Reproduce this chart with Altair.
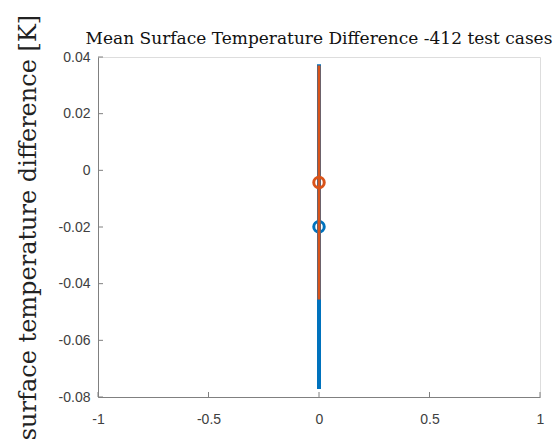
import altair as alt
import pandas as pd

# ---- data ----
series = ["Series 1", "Series 2"]
colors = ["#0072BD", "#D95319"]
x_pos = [0.0, 0.0]
means = [-0.0199, -0.0043]
errs = [0.0573, 0.0413]
bar_widths = [4, 3]

x_ticks = [-1, -0.5, 0, 0.5, 1]
y_ticks = [-0.08, -0.06, -0.04, -0.02, 0, 0.02, 0.04]

title_text = "Mean Surface Temperature Difference -412 test cases"
ylabel_text = "surface temperature difference [K]"

W, H = 442, 340

df = pd.DataFrame({
    "series": series,
    "x": x_pos,
    "mean": means,
    "lo": [m - e for m, e in zip(means, errs)],
    "hi": [m + e for m, e in zip(means, errs)],
})

xscale = alt.Scale(domain=[-1, 1], nice=False, zero=False)
yscale = alt.Scale(domain=[-0.08, 0.04], nice=False, zero=False)

AX = "#808080"
LAB = "#404040"

xaxis = alt.Axis(values=x_ticks, labelExpr="toString(datum.value)", tickSize=0,
                 grid=False, domainColor=AX, domainWidth=1, labelColor=LAB,
                 labelFont="Liberation Sans", labelFontSize=14, labelPadding=15,
                 title=None, labelFlush=False)
yaxis = alt.Axis(values=y_ticks, labelExpr="toString(datum.value)", tickSize=0,
                 grid=False, domainColor=AX, domainWidth=1, labelColor=LAB,
                 labelFont="Liberation Sans", labelFontSize=14, labelPadding=8,
                 title=ylabel_text, titleFont="DejaVu Serif", titleFontSize=24,
                 titleFontWeight="normal", titleColor="#222222",
                 titleX=-63, titleY=H / 2, titleAngle=270, titleAlign="center",
                 titleBaseline="alphabetic", labelFlush=False)


def X(field):
    return alt.X(field, type="quantitative", scale=xscale, axis=xaxis)


def Y(field):
    return alt.Y(field, type="quantitative", scale=yscale, axis=yaxis)


base = alt.Chart(df)

# inward ticks
xt = alt.Chart(pd.DataFrame({"v": x_ticks})).mark_rule(color=AX, strokeWidth=1).encode(
    x=X("v"), y=alt.value(H), y2=alt.value(H - 5),
)
yt = alt.Chart(pd.DataFrame({"v": y_ticks})).mark_rule(color=AX, strokeWidth=1).encode(
    y=Y("v"), x=alt.value(0), x2=alt.value(5),
)

layers = [xt, yt]
for s, c, bw in zip(series, colors, bar_widths):
    sub = base.transform_filter(alt.datum.series == s)
    rule = sub.mark_rule(color=c, strokeWidth=bw).encode(
        x=X("x"), y=Y("lo"), y2="hi:Q",
    )
    pt = sub.mark_point(shape="circle", filled=False, color=c, size=110,
                        strokeWidth=3, opacity=1).encode(
        x=X("x"), y=Y("mean"),
    )
    layers += [rule, pt]

chart = alt.layer(*layers).properties(
    width=W, height=H,
    title=alt.TitleParams(title_text, font="DejaVu Serif", fontSize=17,
                          fontWeight="normal", color="#111111", anchor="middle",
                          offset=5, dy=39),
    autosize=alt.AutoSizeParams(type="none"),
    padding={"left": 98, "top": 57, "right": 19, "bottom": 48},
).configure_view(stroke=None).configure(background="white")

chart.save("out.html", embed_options={"renderer": "svg", "actions": False})
